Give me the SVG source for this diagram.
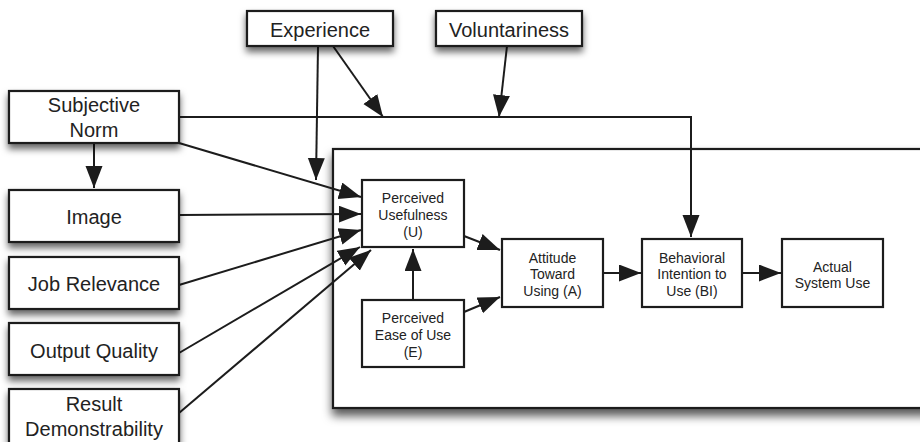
<svg xmlns="http://www.w3.org/2000/svg" width="920" height="442" viewBox="0 0 920 442">
<defs>
<filter id="sh" x="-20%" y="-30%" width="140%" height="170%">
<feDropShadow dx="0" dy="5" stdDeviation="3.5" flood-color="#000" flood-opacity="0.6"/>
</filter>
<filter id="shb" x="-5%" y="-10%" width="110%" height="125%">
<feDropShadow dx="0" dy="7" stdDeviation="5" flood-color="#000" flood-opacity="0.65"/>
</filter>
<marker id="ah" markerUnits="userSpaceOnUse" markerWidth="23" markerHeight="19" refX="22" refY="8.5" orient="auto">
<path d="M0,0 L22,8.5 L0,17 z" fill="#1c1c1c"/>
</marker>
</defs>
<style>
.box{fill:#fff;stroke:#1c1c1c;stroke-width:2.2}
.ob{filter:url(#sh)}
.t20{font-family:"Liberation Sans",Arial,sans-serif;font-size:20px;fill:#222;text-anchor:middle}
.t14{font-family:"Liberation Sans",Arial,sans-serif;font-size:14px;fill:#222;text-anchor:middle}
.ln{fill:none;stroke:#1c1c1c;stroke-width:2}
.ar{fill:none;stroke:#1c1c1c;stroke-width:2;marker-end:url(#ah)}
</style>
<rect width="920" height="442" fill="#fff"/>
<g id="system">
<rect class="box" x="333" y="149" width="600" height="259" filter="url(#shb)"/>
</g>
<g id="connectors">
<polyline class="ar" points="179,117 691,117 691,237"/>
<line class="ar" x1="318" y1="46" x2="316" y2="180"/>
<line class="ar" x1="333" y1="46" x2="383" y2="117"/>
<line class="ar" x1="507" y1="46" x2="499" y2="117"/>
<line class="ar" x1="94" y1="143" x2="94" y2="188"/>
<line class="ar" x1="179" y1="143" x2="361" y2="197"/>
<line class="ar" x1="179" y1="215" x2="361" y2="214"/>
<line class="ar" x1="179" y1="285" x2="361" y2="230"/>
<line class="ar" x1="179" y1="353" x2="360" y2="247"/>
<line class="ar" x1="179" y1="413" x2="371" y2="250"/>
<line class="ar" x1="413" y1="300" x2="413" y2="249"/>
<line class="ar" x1="464" y1="236" x2="500" y2="250"/>
<line class="ar" x1="464" y1="312" x2="500" y2="297"/>
<line class="ar" x1="603" y1="273" x2="641" y2="273"/>
<line class="ar" x1="742" y1="273" x2="781" y2="273"/>
</g>
<g id="experience"><rect class="box ob" x="247" y="11" width="146" height="35"/><text class="t20" x="320" y="37">Experience</text></g>
<g id="voluntariness"><rect class="box ob" x="436" y="11" width="146" height="35"/><text class="t20" x="509" y="37">Voluntariness</text></g>
<g id="subjective-norm"><rect class="box ob" x="9" y="91" width="170" height="52"/><text class="t20" x="94" y="112">Subjective</text><text class="t20" x="94" y="137">Norm</text></g>
<g id="image"><rect class="box ob" x="9" y="190" width="170" height="52"/><text class="t20" x="94" y="224">Image</text></g>
<g id="job-relevance"><rect class="box ob" x="9" y="257" width="170" height="52"/><text class="t20" x="94" y="291">Job Relevance</text></g>
<g id="output-quality"><rect class="box ob" x="9" y="323" width="170" height="52"/><text class="t20" x="94" y="358">Output Quality</text></g>
<g id="result-demonstrability"><rect class="box ob" x="9" y="389" width="170" height="60"/><text class="t20" x="94" y="411">Result</text><text class="t20" x="94" y="436">Demonstrability</text></g>
<g id="perceived-usefulness"><rect class="box" x="362" y="180" width="102" height="67"/><text class="t14" x="413" y="203">Perceived</text><text class="t14" x="413" y="220">Usefulness</text><text class="t14" x="413" y="237">(U)</text></g>
<g id="perceived-ease"><rect class="box" x="362" y="300" width="102" height="67"/><text class="t14" x="413" y="323">Perceived</text><text class="t14" x="413" y="340">Ease of Use</text><text class="t14" x="413" y="357">(E)</text></g>
<g id="attitude"><rect class="box" x="502" y="239" width="101" height="68"/><text class="t14" x="552.5" y="263">Attitude</text><text class="t14" x="552.5" y="279">Toward</text><text class="t14" x="552.5" y="296">Using (A)</text></g>
<g id="behavioral-intention"><rect class="box" x="642" y="239" width="100" height="68"/><text class="t14" x="692" y="263">Behavioral</text><text class="t14" x="692" y="279">Intention to</text><text class="t14" x="692" y="296">Use (BI)</text></g>
<g id="actual-use"><rect class="box" x="782" y="239" width="101" height="68"/><text class="t14" x="832.5" y="272">Actual</text><text class="t14" x="832.5" y="288">System Use</text></g>
</svg>
